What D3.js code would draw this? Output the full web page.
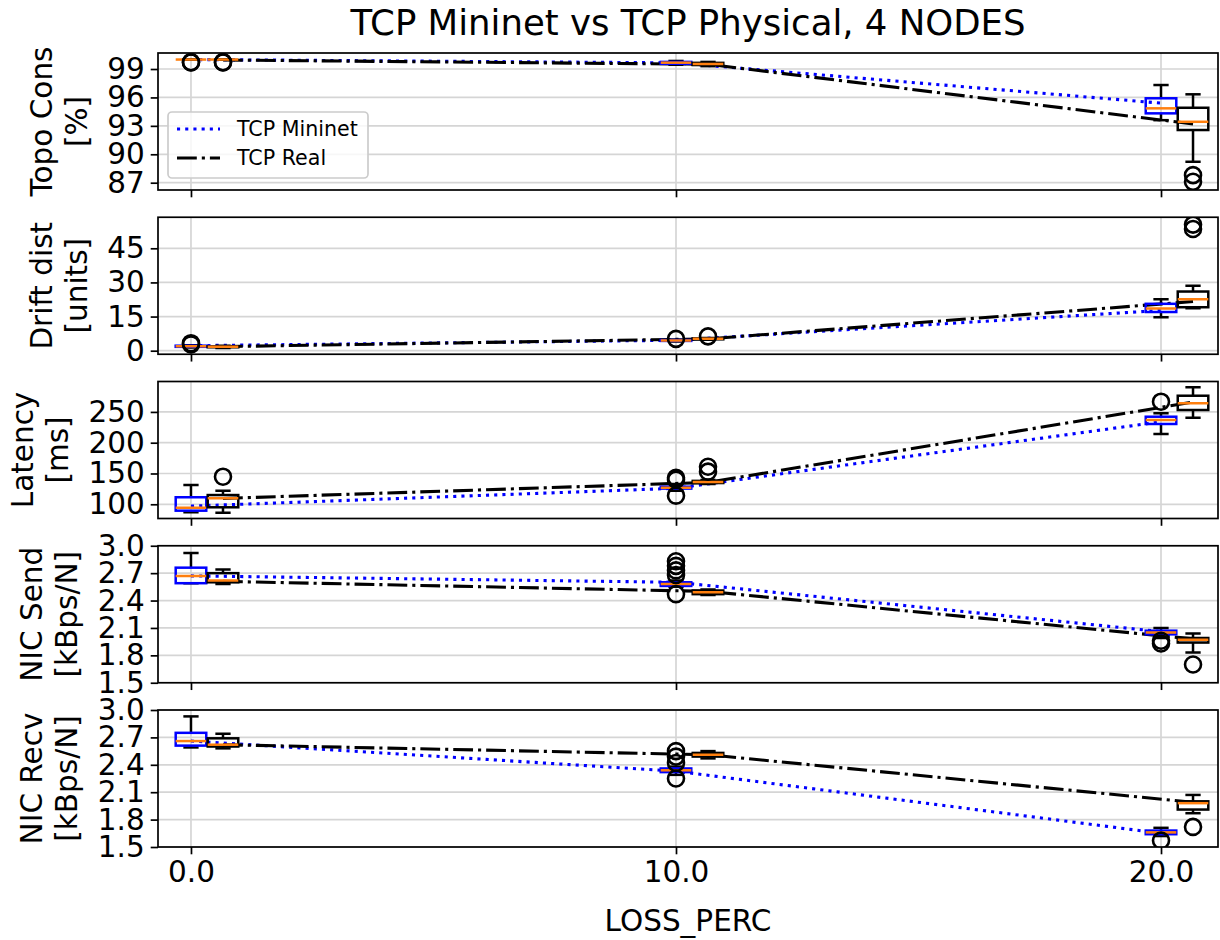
<!DOCTYPE html>
<html>
<head>
<meta charset="utf-8">
<script src="https://cdn.jsdelivr.net/npm/d3@7"></script>
<style>
  body { margin: 0; background: #fff; }
  text { font-family: "DejaVu Sans", sans-serif; fill: #000; }
</style>
</head>
<body>
<svg id="chart" width="1220" height="940"></svg>
<script>
// ---- data ----------------------------------------------------------------
const lossLevels = [0, 10, 20];
const xTickLabels = ["0.0", "10.0", "20.0"];
const seriesNames = ["TCP Mininet", "TCP Real"];
const chartTitle = "TCP Mininet vs TCP Physical, 4 NODES";
const xTitle = "LOSS_PERC";

// box stats per loss level: [low whisker, q1, median, q3, high whisker]
const topoMininetBox = [[100, 100, 100, 100, 100], [99.45, 99.55, 99.67, 99.75, 99.85], [93.6, 94.32, 94.85, 95.91, 97.31]];
const topoMininetOut = [[99.7, 99.72], [], []];
const topoMininetLine = [100, 99.65, 95.4];
const topoRealBox = [[100, 100, 100, 100, 100], [99.3, 99.42, 99.53, 99.65, 99.75], [89.21, 92.56, 93.43, 94.91, 96.33]];
const topoRealOut = [[99.7, 99.72], [], [87.8, 87.1]];
const topoRealLine = [99.95, 99.5, 93.2];

const driftMininetBox = [[1.4, 1.7, 2.0, 2.2, 2.4], [4.0, 4.3, 4.5, 4.7, 4.9], [14.7, 17.0, 18.5, 20.6, 22.6]];
const driftMininetOut = [[3.3, 2.8], [5.2], []];
const driftMininetLine = [2.2, 4.6, 17.7];
const driftRealBox = [[1.2, 1.5, 1.7, 1.9, 2.2], [4.8, 5.0, 5.2, 5.4, 5.6], [18.7, 19.1, 22.6, 26.0, 28.5]];
const driftRealOut = [[], [6.3], [55.4, 53.5]];
const driftRealLine = [1.8, 5.2, 21.6];

const latMininetBox = [[87, 89.6, 94.5, 111.4, 131.3], [122, 125.5, 127, 128.5, 133], [214, 230.4, 236.8, 242.2, 247.7]];
const latMininetOut = [[], [143, 140, 114], [266.6]];
const latMininetLine = [97, 126, 234];
const latRealBox = [[86.4, 95.1, 109.7, 115, 122], [133, 134.5, 136.2, 138, 139.5], [240.6, 253.1, 264, 276.3, 290]];
const latRealOut = [[144.8], [161, 153], []];
const latRealLine = [109.5, 135.5, 266];

const sendMininetBox = [[2.59, 2.59, 2.67, 2.76, 2.92], [2.55, 2.56, 2.58, 2.60, 2.62], [1.99, 2.03, 2.05, 2.07, 2.10]];
const sendMininetOut = [[], [2.83, 2.78, 2.73, 2.68, 2.47], [1.96, 1.93]];
const sendMininetLine = [2.67, 2.60, 2.06];
const sendRealBox = [[2.58, 2.60, 2.62, 2.70, 2.74], [2.46, 2.47, 2.49, 2.51, 2.52], [1.83, 1.94, 1.97, 1.99, 2.04]];
const sendRealOut = [[], [], [1.70]];
const sendRealLine = [2.61, 2.50, 1.98];

const recvMininetBox = [[2.59, 2.61, 2.66, 2.75, 2.93], [2.29, 2.32, 2.34, 2.36, 2.38], [1.62, 1.64, 1.66, 1.68, 1.71]];
const recvMininetOut = [[], [2.55, 2.49, 2.42, 2.25], [1.57]];
const recvMininetLine = [2.66, 2.33, 1.65];
const recvRealBox = [[2.58, 2.60, 2.62, 2.69, 2.74], [2.47, 2.49, 2.51, 2.53, 2.55], [1.87, 1.91, 1.98, 2.00, 2.07]];
const recvRealOut = [[], [], [1.72]];
const recvRealLine = [2.62, 2.51, 1.99];

const topoTicks = [87, 90, 93, 96, 99];
const driftTicks = [0, 15, 30, 45];
const latTicks = [100, 150, 200, 250];
const nicTicks = [1.5, 1.8, 2.1, 2.4, 2.7, 3.0];

// ---- panel setup ---------------------------------------------------------
const panels = [
  { label: ["Topo Cons", "[%]"], ticks: topoTicks, fmt: d3.format("d"), domain: [86.23, 100.69],
    mBox: topoMininetBox, mOut: topoMininetOut, mLine: topoMininetLine,
    rBox: topoRealBox, rOut: topoRealOut, rLine: topoRealLine, legend: true },
  { label: ["Drift dist", "[units]"], ticks: driftTicks, fmt: d3.format("d"), domain: [-1.56, 58.64],
    mBox: driftMininetBox, mOut: driftMininetOut, mLine: driftMininetLine,
    rBox: driftRealBox, rOut: driftRealOut, rLine: driftRealLine },
  { label: ["Latency", "[ms]"], ticks: latTicks, fmt: d3.format("d"), domain: [76.9, 299.4],
    mBox: latMininetBox, mOut: latMininetOut, mLine: latMininetLine,
    rBox: latRealBox, rOut: latRealOut, rLine: latRealLine },
  { label: ["NIC Send", "[kBps/N]"], ticks: nicTicks, fmt: d3.format(".1f"), domain: [1.5, 3.0],
    mBox: sendMininetBox, mOut: sendMininetOut, mLine: sendMininetLine,
    rBox: sendRealBox, rOut: sendRealOut, rLine: sendRealLine },
  { label: ["NIC Recv", "[kBps/N]"], ticks: nicTicks, fmt: d3.format(".1f"), domain: [1.5, 3.0],
    mBox: recvMininetBox, mOut: recvMininetOut, mLine: recvMininetLine,
    rBox: recvRealBox, rOut: recvRealOut, rLine: recvRealLine }
];

const svg = d3.select("#chart");
const left = 158, right = 1218;
const panelTop0 = 53, panelStep = 164.25, panelH = 137;
const realOffset = 0.66, boxW = 0.63;
const fs = 29.5;       // tick and axis label size
const legendFs = 20.6;
const titleFs = 35.5;

const x = d3.scaleLinear().domain([-0.68, 21.175]).range([left, right]);

const gridColor = "#d5d5d5";
const mininetColor = "#0000ff";
const medianColor = "#ff7f0e";

svg.append("text")
  .attr("x", (left + right) / 2).attr("y", 35)
  .attr("text-anchor", "middle").attr("font-size", titleFs)
  .text(chartTitle);

panels.forEach((p, i) => {
  const top = panelTop0 + i * panelStep;
  const bottom = top + panelH;
  const y = d3.scaleLinear().domain(p.domain).range([bottom, top]);
  const g = svg.append("g");

  const clipId = "clip" + i;
  svg.append("defs").append("clipPath").attr("id", clipId)
    .append("rect").attr("x", left).attr("y", top).attr("width", right - left).attr("height", panelH);

  // grid
  g.append("g").selectAll("line").data(lossLevels).join("line")
    .attr("x1", d => x(d)).attr("x2", d => x(d)).attr("y1", top).attr("y2", bottom)
    .attr("stroke", gridColor).attr("stroke-width", 1.7);
  g.append("g").selectAll("line").data(p.ticks).join("line")
    .attr("x1", left).attr("x2", right).attr("y1", d => y(d)).attr("y2", d => y(d))
    .attr("stroke", gridColor).attr("stroke-width", 1.7);

  const marks = g.append("g").attr("clip-path", `url(#${clipId})`);

  // trend lines
  const lineGen = d3.line().x(d => x(d[0])).y(d => y(d[1]));
  marks.append("path")
    .attr("d", lineGen(lossLevels.map((l, k) => [l, p.mLine[k]])))
    .attr("fill", "none").attr("stroke", mininetColor).attr("stroke-width", 3.1)
    .attr("stroke-dasharray", "3.1,5.1");
  marks.append("path")
    .attr("d", lineGen(lossLevels.map((l, k) => [l + realOffset, p.rLine[k]])))
    .attr("fill", "none").attr("stroke", "#000").attr("stroke-width", 3.1)
    .attr("stroke-dasharray", "19.8,5,3.1,5");

  // box plots
  function drawBoxes(stats, outs, offset, edge) {
    stats.forEach((s, k) => {
      const cx = lossLevels[k] + offset;
      const x0 = x(cx - boxW / 2), x1 = x(cx + boxW / 2);
      const c0 = x(cx - boxW / 4), c1 = x(cx + boxW / 4);
      const [lo, q1, med, q3, hi] = s;
      const bg = marks.append("g");
      // whiskers
      bg.append("line").attr("x1", x(cx)).attr("x2", x(cx)).attr("y1", y(q1)).attr("y2", y(lo))
        .attr("stroke", "#000").attr("stroke-width", 2.5);
      bg.append("line").attr("x1", x(cx)).attr("x2", x(cx)).attr("y1", y(q3)).attr("y2", y(hi))
        .attr("stroke", "#000").attr("stroke-width", 2.5);
      // caps
      [lo, hi].forEach(v => bg.append("line").attr("x1", c0).attr("x2", c1).attr("y1", y(v)).attr("y2", y(v))
        .attr("stroke", "#000").attr("stroke-width", 2.5));
      // box
      bg.append("rect").attr("x", x0).attr("width", x1 - x0)
        .attr("y", y(q3)).attr("height", Math.max(0, y(q1) - y(q3)))
        .attr("fill", "none").attr("stroke", edge).attr("stroke-width", 2.5);
      // median
      bg.append("line").attr("x1", x0).attr("x2", x1).attr("y1", y(med)).attr("y2", y(med))
        .attr("stroke", medianColor).attr("stroke-width", 2.5);
      // outliers
      bg.selectAll("circle").data(outs[k]).join("circle")
        .attr("cx", x(cx)).attr("cy", d => y(d)).attr("r", 8)
        .attr("fill", "none").attr("stroke", "#000").attr("stroke-width", 2.6);
    });
  }
  drawBoxes(p.mBox, p.mOut, 0, mininetColor);
  drawBoxes(p.rBox, p.rOut, realOffset, "#000");

  // spines
  g.append("rect").attr("x", left).attr("y", top).attr("width", right - left).attr("height", panelH)
    .attr("fill", "none").attr("stroke", "#000").attr("stroke-width", 1.7);

  // y axis
  const yAxis = d3.axisLeft(y).tickValues(p.ticks).tickFormat(p.fmt).tickSize(7.3).tickPadding(6);
  const ya = g.append("g").attr("transform", `translate(${left},0)`).call(yAxis);
  ya.select(".domain").remove();
  ya.selectAll(".tick line").attr("stroke", "#000").attr("stroke-width", 1.7);
  ya.selectAll(".tick text").attr("font-size", fs).attr("font-family", "DejaVu Sans").attr("fill", "#000");

  // x axis
  const xAxis = d3.axisBottom(x).tickValues(lossLevels)
    .tickFormat((d, k) => i === panels.length - 1 ? xTickLabels[k] : "")
    .tickSize(7.3).tickPadding(7);
  const xa = g.append("g").attr("transform", `translate(0,${bottom})`).call(xAxis);
  xa.select(".domain").remove();
  xa.selectAll(".tick line").attr("stroke", "#000").attr("stroke-width", 1.7);
  xa.selectAll(".tick text").attr("font-size", fs).attr("font-family", "DejaVu Sans").attr("fill", "#000");

  // y label (two lines), placed just left of the widest tick label
  let tickLeft = left;
  ya.selectAll(".tick text").each(function () {
    const b = this.getBBox();
    tickLeft = Math.min(tickLeft, left + b.x);
  });
  const base2 = tickLeft - 20.4;
  const cy = (top + bottom) / 2;
  p.label.forEach((t, li) => {
    svg.append("text")
      .attr("transform", `translate(${base2 - (1 - li) * 35},${cy}) rotate(-90)`)
      .attr("text-anchor", "middle").attr("font-size", fs)
      .text(t);
  });

  // legend
  if (p.legend) {
    const lx = left + 10, lw = 200, lh = 66;
    const ly = bottom - 12 - lh;
    const lg = svg.append("g");
    lg.append("rect").attr("x", lx).attr("y", ly).attr("width", lw).attr("height", lh)
      .attr("rx", 4).attr("fill", "#fff").attr("fill-opacity", 0.8)
      .attr("stroke", "#cccccc").attr("stroke-width", 1.7);
    const rows = [
      { name: seriesNames[0], color: mininetColor, dash: "3.1,5.1" },
      { name: seriesNames[1], color: "#000", dash: "19.8,5,3.1,5" }
    ];
    rows.forEach((r, k) => {
      const ry = ly + 17 + k * 29;
      lg.append("line").attr("x1", lx + 9).attr("x2", lx + 52).attr("y1", ry).attr("y2", ry)
        .attr("stroke", r.color).attr("stroke-width", 3.1).attr("stroke-dasharray", r.dash);
      lg.append("text").attr("x", lx + 69).attr("y", ry).attr("dy", "0.36em")
        .attr("font-size", legendFs).text(r.name);
    });
  }
});

svg.append("text")
  .attr("x", (left + right) / 2).attr("y", 931)
  .attr("text-anchor", "middle").attr("font-size", fs)
  .text(xTitle);
</script>
</body>
</html>
